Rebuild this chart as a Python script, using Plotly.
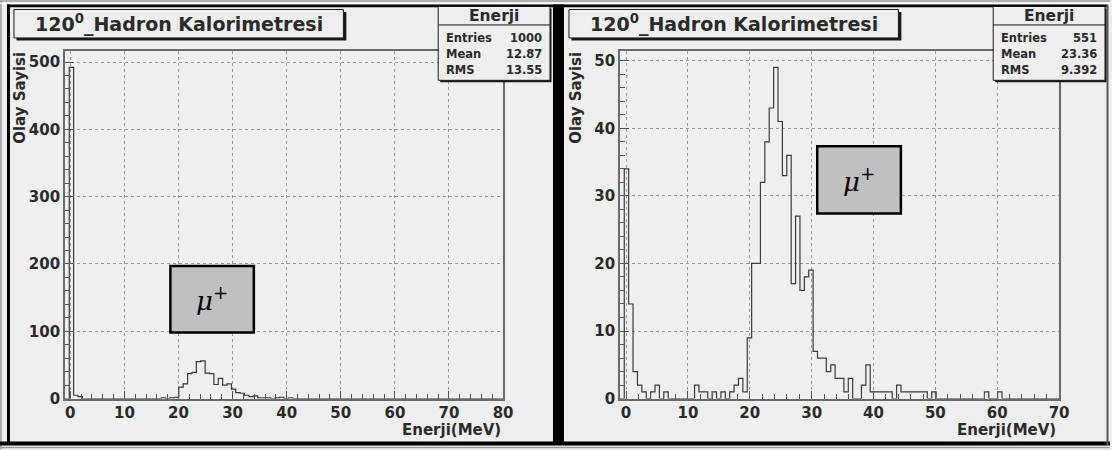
import numpy as np
import plotly.graph_objects as go

W, H = 1112, 450          # reference picture size (design coordinates)
FW, FH = 1120, 458        # figure size: the photographed viewport is 8px larger than the window

# ---------------- data ----------------
title_text = "120<sup>0</sup>_Hadron Kalorimetresi"
hist_name = "Enerji"
x_title = "Enerji(MeV)"
y_title = "Olay Sayisi"
particle = "μ<sup>+</sup>"

# left pad: 100 bins from -1 to 80 MeV
left_nbins = 100
left_xmin, left_xmax = -1, 80
left_counts = [
    0, 492, 5, 3, 0, 0, 0, 0, 0, 0,
    0, 0, 0, 0, 0, 0, 0, 0, 0, 0,
    0, 0, 1, 0, 1, 2, 17, 22, 37, 39,
    55, 56, 38, 37, 21, 30, 20, 22, 14, 9,
    8, 5, 3, 4, 1, 1, 1, 0, 1, 2,
    0, 1, 0, 0, 0, 0, 0, 0, 0, 0,
    0, 0, 0, 0, 0, 0, 0, 0, 0, 0,
    0, 0, 0, 0, 0, 0, 0, 0, 0, 0,
    0, 0, 0, 0, 0, 0, 0, 0, 0, 0,
    0, 0, 0, 0, 0, 0, 0, 0, 0, 0,
]
left_stats = [("Entries", "1000"), ("Mean", "12.87"), ("RMS", "13.55")]

# right pad: 100 bins from -1 to 70 MeV
right_nbins = 100
right_xmin, right_xmax = -1, 70
right_counts = [
    0, 34, 14, 4, 2, 1, 0, 1, 2, 0,
    1, 0, 0, 0, 0, 0, 0, 2, 1, 1,
    0, 1, 0, 1, 0, 1, 2, 3, 1, 9,
    20, 20, 32, 38, 43, 49, 41, 33, 36, 17,
    27, 16, 18, 19, 7, 6, 6, 4, 5, 3,
    3, 1, 3, 0, 0, 2, 5, 1, 1, 1,
    1, 1, 0, 2, 1, 1, 1, 1, 1, 1,
    0, 1, 0, 0, 0, 0, 0, 0, 0, 0,
    0, 0, 0, 1, 0, 0, 1, 0, 0, 0,
    0, 0, 0, 0, 0, 0, 0, 0, 0, 0,
]
right_stats = [("Entries", "551"), ("Mean", "23.36"), ("RMS", "9.392")]

left_xticks = [0, 10, 20, 30, 40, 50, 60, 70, 80]
right_xticks = [0, 10, 20, 30, 40, 50, 60, 70]
left_yticks = [0, 100, 200, 300, 400, 500]
right_yticks = [0, 10, 20, 30, 40, 50]

# ---------------- style ----------------
BG = "#efefef"
FONT = "DejaVu Sans"
TXT = "#2a2a2a"


def px(x):
    return x / W


def py(y):
    return 1 - y / H


def step_xy(counts, xmin, xmax, nbins):
    edges = np.linspace(xmin, xmax, nbins + 1)
    c = np.asarray(counts, dtype=float)
    xs = np.concatenate([[edges[0]], edges[:-1], [edges[-1]], [edges[-1]]])
    ys = np.concatenate([[0], c, [c[-1]], [0]])
    return xs, ys


fig = go.Figure()

lx, ly = step_xy(left_counts, left_xmin, left_xmax, left_nbins)
rx, ry = step_xy(right_counts, right_xmin, right_xmax, right_nbins)

fig.add_trace(go.Scatter(x=lx, y=ly, mode="lines", line=dict(shape="hv", color="#3a3a3a", width=1.2),
                         xaxis="x", yaxis="y", showlegend=False, hoverinfo="skip"))
fig.add_trace(go.Scatter(x=rx, y=ry, mode="lines", line=dict(shape="hv", color="#3a3a3a", width=1.2),
                         xaxis="x2", yaxis="y2", showlegend=False, hoverinfo="skip"))

tickfont = dict(family=FONT, size=15, color=TXT, weight="bold")


def xaxis_cfg(dom, rng, ticks, anchor):
    return dict(domain=dom, range=rng, tickmode="array", tickvals=ticks, ticktext=[str(t) for t in ticks],
                ticks="inside", ticklen=8, tickwidth=1, tickcolor="#555", ticklabelstandoff=0,
                minor=dict(ticks="inside", ticklen=5, dtick=2, tick0=0, tickcolor="#555", showgrid=False),
                showgrid=True, gridcolor="#9a9a9a", griddash="dot", gridwidth=1,
                showline=True, linecolor="#6a6a6a", linewidth=1.5, mirror=True, zeroline=False,
                tickfont=tickfont, anchor=anchor, fixedrange=True)


def yaxis_cfg(dom, rng, ticks, minor_dt, anchor):
    return dict(domain=dom, range=rng, tickmode="array", tickvals=ticks, ticktext=[str(t) for t in ticks],
                ticks="inside", ticklen=9, tickwidth=1, tickcolor="#555",
                minor=dict(ticks="inside", ticklen=5, dtick=minor_dt, tick0=0, tickcolor="#555", showgrid=False),
                showgrid=True, gridcolor="#9a9a9a", griddash="dot", gridwidth=1,
                showline=True, linecolor="#6a6a6a", linewidth=1.5, mirror=True, zeroline=False,
                tickfont=tickfont, anchor=anchor, fixedrange=True)


ydom = [py(399.5), py(51)]
fig.update_layout(
    width=FW, height=FH, autosize=False,
    margin=dict(l=0, r=0, t=0, b=0),
    paper_bgcolor=BG, plot_bgcolor=BG,
    xaxis=xaxis_cfg([px(65), px(504)], [left_xmin, left_xmax], left_xticks, "y"),
    yaxis=yaxis_cfg(ydom, [0, max(left_counts) * 1.05], left_yticks, 20, "x"),
    xaxis2=xaxis_cfg([px(621), px(1061)], [right_xmin, right_xmax], right_xticks, "y2"),
    yaxis2=yaxis_cfg(ydom, [0, max(right_counts) * 1.05], right_yticks, 2, "x2"),
)

shapes = []
annots = []


def rect(x0, y0, x1, y1, fill=None, line="black", lw=1):
    shapes.append(dict(type="rect", xref="paper", yref="paper", x0=px(x0), x1=px(x1), y0=py(y1), y1=py(y0),
                       fillcolor=fill if fill else "rgba(0,0,0,0)",
                       line=dict(color=line, width=lw), layer="above"))


def hline(x0, x1, y, color, lw):
    shapes.append(dict(type="line", xref="paper", yref="paper", x0=px(x0), x1=px(x1), y0=py(y), y1=py(y),
                       line=dict(color=color, width=lw), layer="above"))


def vline(x, y0, y1, color, lw):
    shapes.append(dict(type="line", xref="paper", yref="paper", x0=px(x), x1=px(x), y0=py(y0), y1=py(y1),
                       line=dict(color=color, width=lw), layer="above"))


def text(x, y, s, size, xanchor="center", yanchor="middle", bold=True, angle=0, family=FONT, style="normal",
         color=TXT):
    annots.append(dict(x=px(x), y=py(y), xref="paper", yref="paper", text=s, showarrow=False,
                       xanchor=xanchor, yanchor=yanchor, textangle=angle,
                       font=dict(family=family, size=size, color=color,
                                 weight="bold" if bold else "normal", style=style)))


# canvas / pad borders
hline(0, W, 1, "#9a9a9a", 1.5)
vline(1, 0, H, "#9a9a9a", 1.5)
hline(0, W, 3.5, "#ffffff", 1)
rect(7, 4.5, 1109, 7.2, fill="black", line="black", lw=0)
rect(7, 4.5, 10, 446, fill="black", line="black", lw=0)
rect(554, 4.5, 565, 446, fill="black", line="black", lw=0)
rect(0, 442.5, W, 446.5, fill="black", line="black", lw=0)
hline(0, W, 448.5, "#9a9a9a", 1.5)
vline(1109.5, 4.5, 446, "#555555", 2)

pads = [
    dict(off=0, stats=left_stats, mu=(170.7, 266.7, 254.3, 333.3), ytx=20, xt=504),
    dict(off=556, stats=right_stats, mu=(818.7, 146.7, 902.5, 214), ytx=577, xt=1060),
]

for p in pads:
    o = p["off"]
    # title box with shadow
    rect(o + 16.5, 12, o + 347, 40.5, fill="#1a1a1a", line="#1a1a1a", lw=0)
    rect(o + 14, 9.5, o + 344, 38, fill=BG, line="#1a1a1a", lw=1)
    text(o + 179, 24, title_text, 19)
    # stats box
    sx0, sx1 = o + 439, o + 551
    rect(sx0 + 2, 8.5, sx1 + 1.5, 82.5, fill="#1a1a1a", line="#1a1a1a", lw=0)
    rect(sx0, 6.5, sx1, 80.5, fill=BG, line="#1a1a1a", lw=1)
    hline(sx0, sx1, 25, "#1a1a1a", 1)
    text((sx0 + sx1) / 2, 16, hist_name, 15.5)
    for i, (lab, val) in enumerate(p["stats"]):
        yy = 38 + i * 16
        text(sx0 + 6, yy, lab, 11.5, xanchor="left")
        text(sx1 - 6, yy, val, 11.5, xanchor="right")
    # mu box
    mx0, my0, mx1, my1 = p["mu"]
    rect(mx0, my0, mx1, my1, fill="#c0c0c0", line="black", lw=2.5)
    text((mx0 + mx1) / 2, (my0 + my1) / 2, particle, 26, bold=False, family="DejaVu Serif", style="italic",
         color="black")
    # axis titles
    text(p["ytx"], 50, y_title, 15, yanchor="top", angle=-90)
    text(p["xt"], 431, x_title, 15, xanchor="right")

fig.update_layout(shapes=shapes, annotations=annots)

css_js = (
    "var s=document.createElement('style');"
    "s.textContent='html,body{margin:0!important;padding:0!important;overflow:hidden!important;}';"
    "document.head.appendChild(s);"
    "var g=document.getElementById('{plot_id}');"
    "g.style.position='absolute';g.style.left='0px';g.style.top='0px';"
)
fig.write_html("out.html", post_script=css_js,
               config={"displayModeBar": False, "responsive": False})
